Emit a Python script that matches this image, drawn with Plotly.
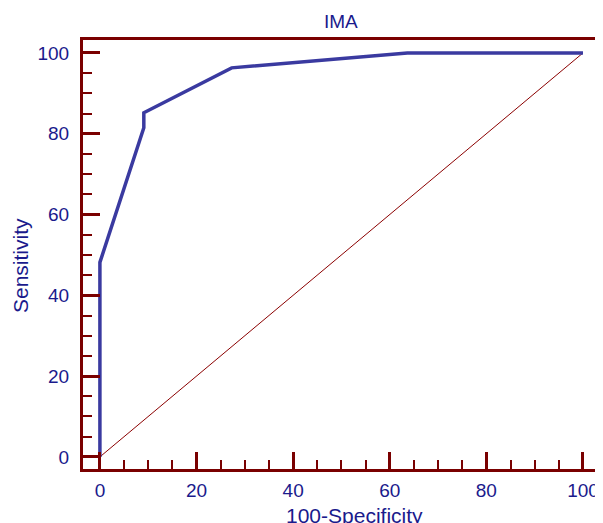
import plotly.graph_objects as go

# ROC curve points (100-Specificity, Sensitivity)
fpr = [0, 0, 9.09, 9.09, 27.27, 63.64, 100]
tpr = [0, 48.15, 81.48, 85.19, 96.30, 100, 100]
diag_x = [0, 100]
diag_y = [0, 100]

NAVY = "#1a1a8c"
FRAME = "#7a0000"
CURVE = "#3a3aa0"
FONT = "Liberation Sans, Arial, sans-serif"

fig = go.Figure()
fig.add_trace(go.Scatter(x=diag_x, y=diag_y, mode="lines",
                         line=dict(color="#8b0000", width=1), hoverinfo="skip"))
fig.add_trace(go.Scatter(x=fpr, y=tpr, mode="lines",
                         line=dict(color=CURVE, width=3.5)))

axis_common = dict(
    showline=True, linecolor=FRAME, linewidth=3, mirror=True,
    ticks="inside", ticklen=17, tickwidth=3, tickcolor=FRAME,
    showgrid=False, zeroline=False,
    tickfont=dict(family=FONT, size=19, color=NAVY),
    dtick=20, tick0=0,
    minor=dict(ticks="inside", ticklen=9, tickwidth=2, tickcolor=FRAME, dtick=5, showgrid=False),
)

fig.update_layout(
    width=603, height=523,
    margin=dict(l=75, r=14, t=32, b=62, autoexpand=False),
    paper_bgcolor="white", plot_bgcolor="white",
    showlegend=False,
    title=dict(text="IMA", x=0.552, xanchor="center", y=0.975, yanchor="middle",
               font=dict(family=FONT, size=19, color=NAVY)),
    xaxis=dict(range=[-3.5, 102.9], ticklabelstandoff=2, **axis_common),
    yaxis=dict(range=[-3, 103.2], ticklabelstandoff=7, **axis_common),
    annotations=[
        dict(text="100-Specificity", xref="paper", yref="paper", x=0.529, y=-0.078,
             xanchor="center", yanchor="top", showarrow=False,
             font=dict(family=FONT, size=21, color=NAVY)),
        dict(text="Sensitivity", xref="paper", yref="paper", x=-0.1226, y=0.4755,
             xanchor="center", yanchor="middle", textangle=-90, showarrow=False,
             font=dict(family=FONT, size=21, color=NAVY)),
    ],
)

fig.write_html("out.html")
